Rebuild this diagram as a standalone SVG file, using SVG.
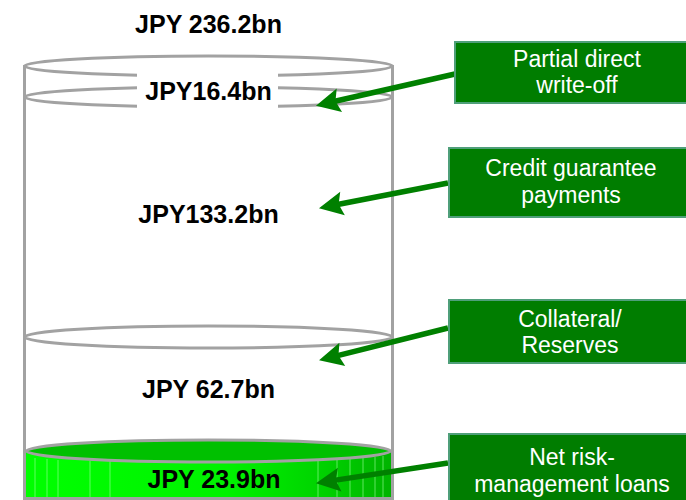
<svg xmlns="http://www.w3.org/2000/svg" width="686" height="500" viewBox="0 0 686 500">
  <defs>
    <linearGradient id="gb" x1="0" y1="0" x2="1" y2="0">
      <stop offset="0" stop-color="#00ff00"/>
      <stop offset="0.55" stop-color="#00f200"/>
      <stop offset="0.8" stop-color="#00d400"/>
      <stop offset="1" stop-color="#00b400"/>
    </linearGradient>
    <marker id="ah" markerUnits="userSpaceOnUse" markerWidth="28" markerHeight="28" refX="9" refY="13" orient="auto" overflow="visible">
      <path d="M24,13 L0,1 L4,13 L0,25 Z" fill="#008000"/>
    </marker>
  </defs>
  <style>
    .cyl { fill: none; stroke: #a2a2a2; stroke-width: 3; }
    .lbl { font-family: "Liberation Sans", Arial, sans-serif; font-weight: bold; font-size: 25px; fill: #000; text-anchor: middle; }
    .box { fill: #007d00; stroke: #4f9f7a; stroke-width: 2; }
    .btx { font-family: "Liberation Sans", Arial, sans-serif; font-size: 23px; fill: #fff; text-anchor: middle; }
    .arr { stroke: #008000; stroke-width: 5.5; fill: none; marker-end: url(#ah); }
    .seam { stroke: #9fff9f; stroke-width: 1; opacity: 0.6; }
  </style>
  <rect width="686" height="500" fill="#fff"/>

  <g id="cylinder">
    <path d="M26,451 L391,451 L391,500 L26,500 Z" fill="url(#gb)"/>
    <g>
      <line class="seam" x1="35" y1="458" x2="35" y2="500"/>
      <line class="seam" x1="47" y1="459" x2="47" y2="500"/>
      <line class="seam" x1="58" y1="460" x2="58" y2="500"/>
      <line class="seam" x1="90" y1="461" x2="90" y2="500"/>
      <line class="seam" x1="110" y1="461" x2="110" y2="500"/>
      <line class="seam" x1="318" y1="460" x2="318" y2="500"/>
      <line class="seam" x1="337" y1="459" x2="337" y2="500"/>
      <line class="seam" x1="350" y1="459" x2="350" y2="500"/>
      <line class="seam" x1="363" y1="458" x2="363" y2="500"/>
      <line class="seam" x1="375" y1="457" x2="375" y2="500"/>
      <line class="seam" x1="383" y1="456" x2="383" y2="500"/>
    </g>
    <ellipse cx="208.5" cy="451" rx="182" ry="11" fill="#00c000" stroke="#a2a2a2" stroke-width="3"/>
    <line x1="24" y1="498.5" x2="393" y2="498.5" stroke="#a2a2a2" stroke-width="3"/>
    <ellipse class="cyl" cx="208.5" cy="66" rx="184" ry="10"/>
    <ellipse class="cyl" cx="208.5" cy="97" rx="184" ry="10"/>
    <ellipse class="cyl" cx="208.5" cy="337" rx="184" ry="11"/>
    <line class="cyl" x1="24.5" y1="65" x2="24.5" y2="500"/>
    <line class="cyl" x1="392.5" y1="65" x2="392.5" y2="500"/>
  </g>

  <g id="labels">
    <text class="lbl" x="208.5" y="33">JPY 236.2bn</text>
    <rect x="137" y="72" width="141" height="37" fill="#fff"/>
    <text class="lbl" x="208.5" y="100">JPY16.4bn</text>
    <text class="lbl" x="208.5" y="223">JPY133.2bn</text>
    <text class="lbl" x="208.5" y="398">JPY 62.7bn</text>
    <text class="lbl" x="214" y="488">JPY 23.9bn</text>
  </g>

  <g id="connectors">
    <line class="arr" x1="455" y1="74" x2="330.6" y2="102.3"/>
    <line class="arr" x1="448" y1="183" x2="333.7" y2="205.3"/>
    <line class="arr" x1="448" y1="328" x2="333.6" y2="356.6"/>
    <line class="arr" x1="448" y1="463" x2="330.8" y2="480.9"/>
  </g>

  <g id="box-writeoff">
    <rect class="box" x="455" y="42" width="232" height="61"/>
    <text class="btx" x="577" y="67">Partial direct</text>
    <text class="btx" x="577" y="93">write-off</text>
  </g>
  <g id="box-guarantee">
    <rect class="box" x="449" y="148" width="238" height="69"/>
    <text class="btx" x="571" y="176">Credit guarantee</text>
    <text class="btx" x="571" y="203">payments</text>
  </g>
  <g id="box-collateral">
    <rect class="box" x="449" y="300" width="238" height="63"/>
    <text class="btx" x="570" y="327">Collateral/</text>
    <text class="btx" x="570" y="353">Reserves</text>
  </g>
  <g id="box-netrisk">
    <rect class="box" x="449" y="434" width="238" height="70"/>
    <text class="btx" x="572" y="465">Net risk-</text>
    <text class="btx" x="572" y="492">management loans</text>
  </g>
</svg>
